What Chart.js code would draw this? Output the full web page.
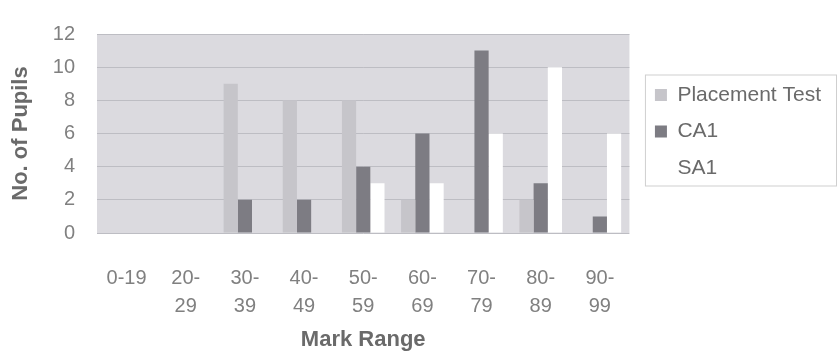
<!DOCTYPE html>
<html lang="en">
<head>
<meta charset="UTF-8" />
<title>Mark Range</title>
<script src="https://cdn.jsdelivr.net/npm/chart.js"></script>
<style>
  body { margin: 0; background: #fff; }
  .wrap { width: 838px; height: 354px; }
</style>
</head>
<body>
<div class="wrap"><canvas id="marksChart" width="838" height="354"></canvas></div>
<script>
  const ranges = [["0-19"], ["20-", "29"], ["30-", "39"], ["40-", "49"], ["50-", "59"],
                  ["60-", "69"], ["70-", "79"], ["80-", "89"], ["90-", "99"]];
  const placementTest = [0, 0, 9, 8, 8, 2, 0, 2, 0];
  const ca1 = [0, 0, 2, 2, 4, 6, 11, 3, 1];
  const sa1 = [0, 0, 0, 0, 3, 3, 6, 10, 6];
  const yTicks = [0, 2, 4, 6, 8, 10, 12];

  const FONT = "'Liberation Sans', Arial, sans-serif";

  // grey plot area behind the bars
  const plotBg = {
    id: "plotBg",
    beforeDraw(chart) {
      const { ctx, chartArea: a } = chart;
      ctx.save();
      ctx.fillStyle = "#dbdadf";
      ctx.fillRect(a.left, a.top, a.right - a.left, a.bottom - a.top);
      ctx.restore();
    },
  };

  // push the legend a little away from the plot, then frame it
  const legendFrame = {
    id: "legendFrame",
    afterLayout(chart) {
      const lg = chart.legend;
      lg.left += 10;
      lg.right += 10;
      lg.top -= 2;
      lg.bottom -= 2;
    },
    afterDraw(chart) {
      const hb = chart.legend.legendHitBoxes;
      if (!hb || !hb.length) return;
      const last = hb[hb.length - 1];
      const x0 = hb[0].left - 10;
      const y0 = hb[0].top - 10;
      const y1 = last.top + last.height + 7;
      const ctx = chart.ctx;
      ctx.save();
      ctx.strokeStyle = "#cfcfcf";
      ctx.lineWidth = 1;
      ctx.strokeRect(x0 + 0.5, y0 + 0.5, chart.width - x0 - 2, y1 - y0);
      ctx.restore();
    },
  };

  new Chart(document.getElementById("marksChart"), {
    type: "bar",
    data: {
      labels: ranges,
      datasets: [
        { label: "Placement Test", data: placementTest, backgroundColor: "#c6c5ca" },
        { label: "CA1", data: ca1, backgroundColor: "#7d7c83" },
        { label: "SA1", data: sa1, backgroundColor: "#ffffff" },
      ],
    },
    options: {
      responsive: false,
      devicePixelRatio: 1,
      animation: false,
      datasets: { bar: { barPercentage: 1, categoryPercentage: 0.72, borderWidth: 0 } },
      layout: { padding: { top: 27, right: 17, bottom: 0, left: 0 } },
      plugins: {
        tooltip: { enabled: false },
        legend: {
          position: "right",
          fullSize: false,
          align: "center",
          labels: {
            font: { family: FONT, size: 21 },
            color: "#6a6a6a",
            boxWidth: 12,
            boxHeight: 12,
            padding: 15.5,
          },
        },
      },
      scales: {
        x: {
          grid: { display: false },
          border: { display: false },
          ticks: {
            font: { family: FONT, size: 20, lineHeight: 1.4 },
            color: "#808080",
            padding: 23,
            maxRotation: 0,
            autoSkip: false,
          },
          title: {
            display: true,
            text: "Mark Range",
            font: { family: FONT, size: 22, weight: "bold" },
            color: "#6a6a6a",
            padding: { top: 0, bottom: 1 },
          },
          afterFit(scale) { scale.height = 121; },
        },
        y: {
          min: yTicks[0],
          max: yTicks[yTicks.length - 1],
          grid: { color: "#bdbdc3", drawTicks: false },
          border: { display: false },
          ticks: {
            stepSize: yTicks[1] - yTicks[0],
            font: { family: FONT, size: 20 },
            color: "#808080",
            padding: 22,
          },
          title: {
            display: true,
            text: "No. of Pupils",
            font: { family: FONT, size: 22, weight: "bold" },
            color: "#6a6a6a",
            padding: { top: 8, bottom: 0 },
          },
          afterFit(scale) { scale.width = 97; },
        },
      },
    },
    plugins: [plotBg, legendFrame],
  });
</script>
</body>
</html>
